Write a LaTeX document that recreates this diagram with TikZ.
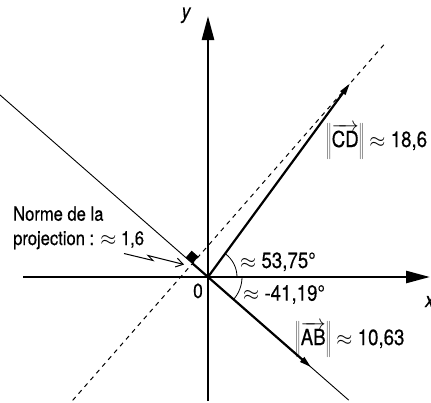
\documentclass[tikz,border=0pt]{standalone}
\usepackage{fontspec}
\setmainfont[FakeStretch=0.85,FakeBold=0.4]{TeX Gyre Heros}
\usetikzlibrary{arrows.meta,calc}
\tikzset{
  axis/.style={line width=2.6bp, -{Triangle[length=24bp,width=12bp]}},
  vect/.style={line width=2.2bp, -{Triangle[length=12bp,width=6bp]}},
  thinline/.style={line width=0.9bp},
  dashline/.style={line width=1bp, dash pattern=on 4.5bp off 4.5bp},
  anglearc/.style={line width=0.8bp},
  projseg/.style={line width=2.2bp},
  lab/.style={inner sep=0pt, font=\fontsize{22bp}{26bp}\selectfont},
  smalllab/.style={inner sep=0pt, font=\fontsize{19.5bp}{23bp}\selectfont},
  axlab/.style={inner sep=0pt, font=\fontsize{21bp}{24bp}\selectfont\itshape},
  bolt/.style={line width=1bp, -{Straight Barb[length=7bp,width=9bp]}},
}
\begin{document}
\begin{tikzpicture}[x=1bp,y=-1bp]
\useasboundingbox (0,0) rectangle (431,403);
% key points
\coordinate (O) at (208,277);
\coordinate (D) at ($(O)+(-53.75:240)$);
\coordinate (B) at ($(O)+(41.19:137.1)$);
\coordinate (F) at ($(O)+(221.19:20.6)$);
\coordinate (L1) at ($(O)+(221.19:277)$);
\coordinate (L2) at ($(O)+(41.19:187)$);
\coordinate (P1) at ($(F)+(131.19:182)$);
\coordinate (P2) at ($(F)+(-48.81:292)$);
% axes
\coordinate (xs) at (23,277);
\coordinate (xe) at (430,277);
\coordinate (ys) at (208,401);
\coordinate (ye) at (208,16);
% thin line and dashed line
\draw[thinline] (L1) -- (L2);
\draw[dashline] (P1) -- (P2);
\draw[axis] (xs) -- (xe);
\draw[axis] (ys) -- (ye);
% projection segment and right angle mark
\draw[projseg] (O) -- (F);
\fill (F) -- ++(-48.81:9) -- ++(221.19:9) -- ++(131.19:9) -- cycle;
% vectors
\draw[vect] (O) -- (D);
\draw[vect] (O) -- (B);
% angle arcs
\draw[anglearc] ($(O)+(0:29)$) arc[start angle=0, end angle=-53.75, radius=29];
\draw[anglearc] ($(O)+(0:34)$) arc[start angle=0, end angle=41.19, radius=34];
% lightning arrow
\coordinate (z0) at (124,253.5);
\coordinate (z1) at (153,260.5);
\coordinate (z2) at (148,255.5);
\coordinate (z3) at (184,264.5);
\draw[bolt] (z0) -- (z1) -- (z2) -- (z3);
% labels
\node[axlab, anchor=base] (ylab) at (186,18.5) {y};
\node[axlab, anchor=base west] (xlab) at (425,307) {x};
\node[smalllab, anchor=base, font=\fontsize{20.5bp}{24bp}\selectfont] (zero) at (198,298) {0};
\node[smalllab, anchor=base west] (norme1) at (13,220.7) {Norme de la};
\node[smalllab, anchor=base west] (norme2) at (13,245) {projection : $\approx$ 1,6};
\node[lab, anchor=base west] (a1) at (240,268) {$\approx$ 53,75°};
\node[lab, anchor=base west] (a2) at (243,300.7) {$\approx$ -41,19°};
\node[lab, anchor=base west] (nab) at (295,345) {$\left\|\overrightarrow{\mbox{AB}}\right\|$ $\approx$ 10,63};
\node[lab, anchor=base west] (ncd) at (326,147) {$\left\|\overrightarrow{\mbox{CD}}\right\|$ $\approx$ 18,6};
\end{tikzpicture}
\end{document}
